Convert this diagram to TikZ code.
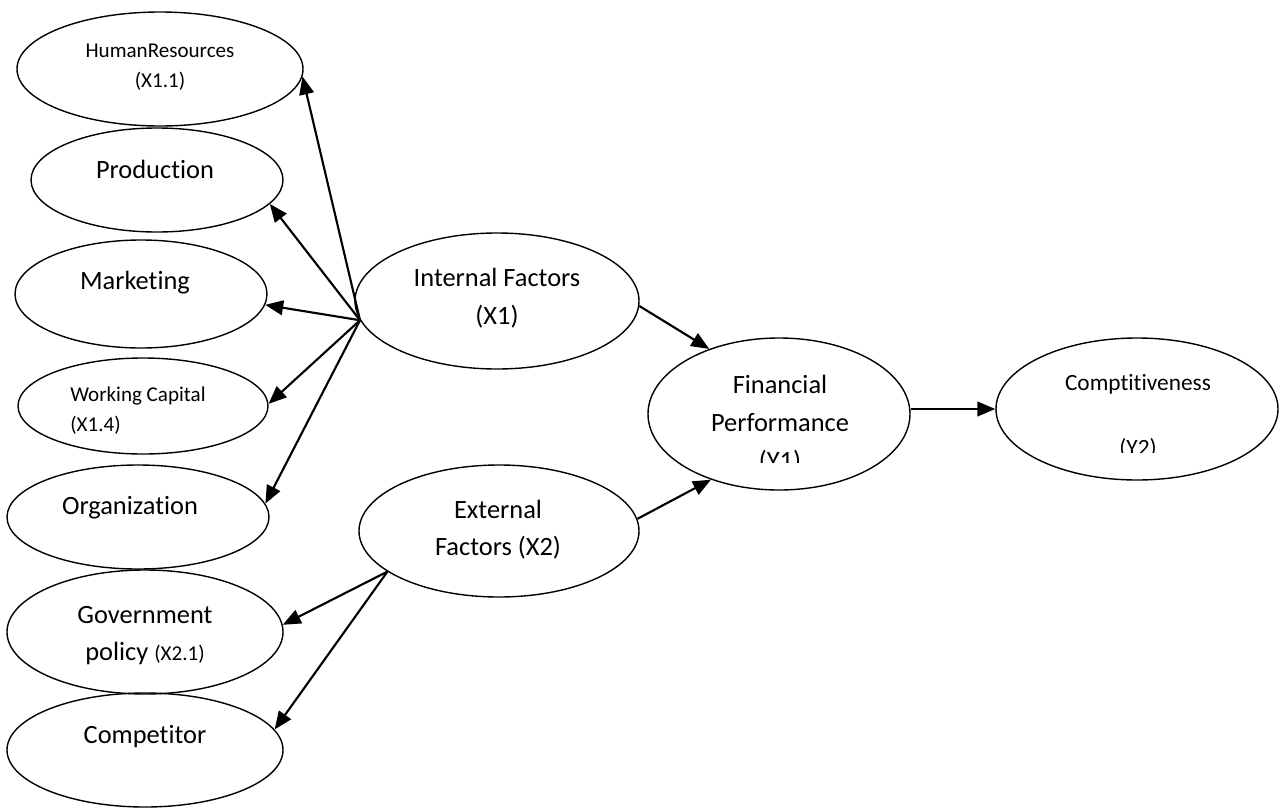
\documentclass[tikz,border=0pt]{standalone}
\usepackage{fontspec}
\setmainfont{Carlito}[RawFeature={-liga;-dlig;-clig}]
\usetikzlibrary{shapes.geometric,arrows.meta}
\tikzset{
  ell/.style 2 args={draw, ellipse, line width=1.05pt, inner sep=0pt, minimum width=#1*1.5pt, minimum height=#2*1.5pt},
  lbl/.style={anchor=base, inner sep=0pt, font=\fontsize{19.8}{23}\selectfont},
  lbls/.style={anchor=base, inner sep=0pt, font=\fontsize{15.8}{19}\selectfont},
  lblw/.style={anchor=base west, inner sep=0pt, font=\fontsize{15.8}{19}\selectfont},
  lblm/.style={anchor=base, inner sep=0pt, font=\fontsize{17.5}{21}\selectfont},
  arr/.style={line width=1.6pt, -{Triangle[length=13.5pt,width=11pt]}}
}
\begin{document}
\begin{tikzpicture}[x=0.75pt,y=-0.75pt]
\useasboundingbox (0,0) rectangle (1280,810);
% ellipses
\node[ell={143}{57}] (hr) at (160,69) {};
\node[ell={126}{52}] (prod) at (157,180) {};
\node[ell={126}{54}] (mkt) at (141,294) {};
\node[ell={125}{48}] (wc) at (143,406) {};
\node[ell={131}{52}] (org) at (138,517) {};
\node[ell={138}{62}] (gov) at (145,632) {};
\node[ell={138}{57}] (comp) at (145,750) {};
\node[ell={142}{68}] (int) at (497,301) {};
\node[ell={140}{66}] (ext) at (499,531) {};
\node[ell={131}{76}] (fin) at (779,414) {};
\node[ell={141}{71}] (cmp) at (1137,409) {};
% texts
\node[lbls] (t1) at (160,57) {HumanResources};
\node[lbls] (t1b) at (160,87) {(X1.1)};
\node[lbl] (t2) at (155,178) {Production};
\node[lbl] (t3) at (135,289) {Marketing};
\node[lblw] (t4) at (70,401) {Working Capital};
\node[lblw] (t4b) at (70,431) {(X1.4)};
\node[lbl] (t5) at (130,514) {Organization};
\node[lbl] (t6) at (145,623) {Government};
\node[lbl] (t6b) at (145,660) {policy {\fontsize{15.8}{19}\selectfont (X2.1)}};
\node[lbl] (t7) at (145,743) {Competitor};
\node[lbl] (t8) at (497,286) {Internal Factors};
\node[lbl] (t8b) at (497,324) {(X1)};
\node[lbl] (t9) at (498,518) {External};
\node[lbl] (t9b) at (498,555) {Factors (X2)};
\node[lbl] (t10) at (780,393) {Financial};
\node[lbl] (t10b) at (780,431) {Performance};
\begin{scope}
\clip (700,440) rectangle (860,462);
\node[lbl] (t10c) at (780,469) {(Y1)};
\end{scope}
\node[lblm] (t11) at (1138,390) {Comptitiveness};
\begin{scope}
\clip (1090,420) rectangle (1190,452);
\node[lblm] (t11b) at (1138,455) {(Y2)};
\end{scope}
% arrows
\draw[arr] (int.188) -- (hr.-3);
\draw[arr] (int.188) -- (prod.-12);
\draw[arr] (int.188) -- (mkt.-5);
\draw[arr] (int.188) -- (wc.1);
\draw[arr] (int.188) -- (org.6);
\draw[arr] (ext.200) -- (gov.3);
\draw[arr] (ext.200) -- (comp.9);
\draw[arr] (int.-2) -- (fin.137);
\draw[arr] (ext.5) -- (fin.224);
\draw[arr] (fin.east |- cmp.west) -- (cmp.west);
\end{tikzpicture}
\end{document}
